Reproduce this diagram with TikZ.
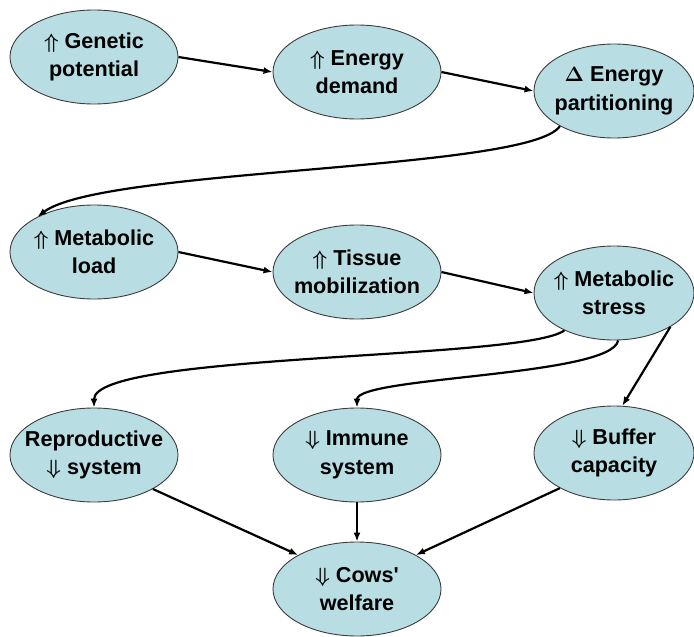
\documentclass[tikz,border=0pt]{standalone}
\usepackage{fontspec}
\setmainfont{Liberation Sans}
\usetikzlibrary{shapes.geometric,arrows.meta}
\definecolor{ellfill}{RGB}{184,222,227}
\definecolor{ellline}{RGB}{60,60,60}
\begin{document}
\begin{tikzpicture}[x=1pt,y=-1pt,
  box/.style={ellipse,draw=ellline,line width=0.9pt,fill=ellfill,
    minimum width=168pt,minimum height=94pt,inner sep=-14pt,align=center,
    font=\bfseries\boldmath\fontsize{21.6}{28.5}\selectfont},
  narrowbox/.style={box,minimum width=160pt},
  conn/.style={line width=2.2pt,-{Latex[length=9pt,width=7pt]}}]
\useasboundingbox (0,0) rectangle (694,637);
\node[box] (gen) at (94,57) {$\Uparrow$ Genetic\\potential};
\node[box] (dem) at (357,72) {$\Uparrow$ Energy\\demand};
\node[narrowbox] (part) at (614,91) {$\Delta$ Energy\\partitioning};
\node[box] (load) at (94,252) {$\Uparrow$ Metabolic\\load};
\node[box] (tis) at (357,272) {$\Uparrow$ Tissue\\mobilization};
\node[narrowbox] (str) at (614,293) {$\Uparrow$ Metabolic\\stress};
\node[box] (rep) at (94,455) {Reproductive\\$\Downarrow$ system};
\node[box] (imm) at (357,455) {$\Downarrow$ Immune\\system};
\node[narrowbox] (buf) at (614,453) {$\Downarrow$ Buffer\\capacity};
\node[box] (cow) at (357,589) {$\Downarrow$ Cows\textquotesingle\\welfare};

\draw[conn] (gen.east) -- (dem.west);
\draw[conn] (dem.east) -- (part.west);
\draw[conn] (part.-147) .. controls +(-30,45) and +(65,-49) .. (load.148);
\draw[conn] (load.east) -- (tis.west);
\draw[conn] (tis.east) -- (str.west);
\draw[conn] (str.-143) .. controls +(-40,30) and +(0,-55) .. (rep.north);
\draw[conn] (str.-85) .. controls +(-6,36) and +(0,-31) .. (imm.north);
\draw[conn] (str.-31) -- (buf.80);
\draw[conn] (rep.-30) -- (cow.150);
\draw[conn] (imm.south) -- (cow.north);
\draw[conn] (buf.-147) -- (cow.30);
\end{tikzpicture}
\end{document}
